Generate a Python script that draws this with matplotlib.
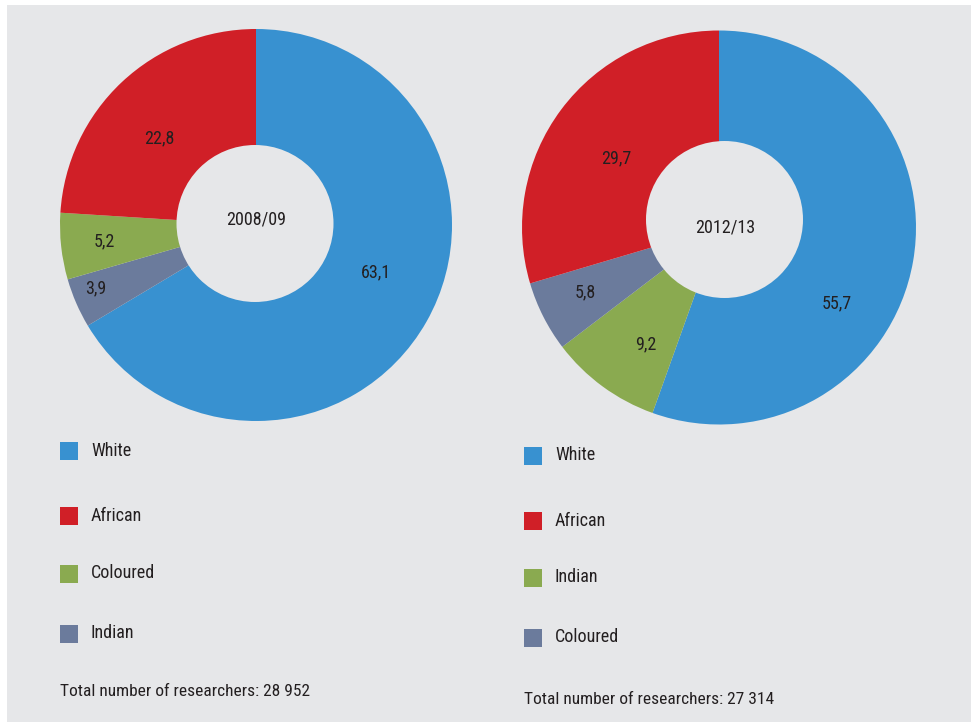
import numpy as np
import matplotlib
matplotlib.use("Agg")
import matplotlib.pyplot as plt
from matplotlib.patches import Rectangle, Circle
from matplotlib import font_manager

# ---------------- data ----------------
left_year = "2008/09"
left_labels = ["White", "Indian", "Coloured", "African"]          # clockwise from top
left_values = [63.1, 3.9, 5.2, 22.8]
left_legend = ["White", "African", "Coloured", "Indian"]
left_total = "Total number of researchers: 28 952"

right_year = "2012/13"
right_labels = ["White", "Indian", "Coloured", "African"]         # clockwise from top
right_values = [55.7, 9.2, 5.8, 29.7]
right_legend = ["White", "African", "Indian", "Coloured"]
right_total = "Total number of researchers: 27 314"

# ---------------- style ----------------
BG = "#e6e7e9"
BLUE, RED, GREEN, SLATE = "#3891d0", "#d01f27", "#8aaa50", "#6b7b9c"
TXT = "#231f20"
left_colors = [BLUE, SLATE, GREEN, RED]
right_colors = [BLUE, GREEN, SLATE, RED]
left_legend_colors = [BLUE, RED, GREEN, SLATE]
right_legend_colors = [BLUE, RED, GREEN, SLATE]

names = {f.name for f in font_manager.fontManager.ttflist}
FONT = "DejaVu Sans"
STRETCH = "condensed"
for cand in ["Roboto Condensed", "Liberation Sans Narrow", "Open Sans Condensed", "DejaVu Sans Condensed"]:
    if cand in names:
        FONT = cand
        break
plt.rcParams["font.family"] = [FONT, "DejaVu Sans"]
WEIGHT = "normal"

W, H = 971, 722
fig = plt.figure(figsize=(W / 100, H / 100), dpi=100, facecolor="white")
ax = fig.add_axes([0, 0, 1, 1])
ax.set_axis_off()


def Y(y):
    return H - y


ax.add_patch(Rectangle((7, 0), W - 7, H - 5, facecolor=BG, edgecolor="none", zorder=0))


def donut(values, colors, center, radius, hole_center, hole_r, year, year_pos,
          label_fracs, label_offsets):
    wedges, _ = ax.pie(values, colors=colors, startangle=90, counterclock=False,
                       center=(center[0], Y(center[1])), radius=radius,
                       wedgeprops=dict(linewidth=0, antialiased=True), frame=True)
    for w in wedges:
        w.set_zorder(2)
    ax.add_patch(Circle((hole_center[0], Y(hole_center[1])), hole_r,
                        facecolor=BG, edgecolor="none", zorder=3))
    ax.text(year_pos[0], Y(year_pos[1]), year, ha="center", va="center",
            fontsize=13, color=TXT, fontstretch=STRETCH, fontweight=WEIGHT, zorder=4)
    for w, v, fr, off in zip(wedges, values, label_fracs, label_offsets):
        mid = np.deg2rad((w.theta1 + w.theta2) / 2 + off)
        r = radius * fr
        x = center[0] + r * np.cos(mid)
        y = Y(center[1]) + r * np.sin(mid)
        ax.text(x, y, f"{v:.1f}".replace(".", ","), ha="center", va="center",
                fontsize=13, color=TXT, fontstretch=STRETCH, fontweight=WEIGHT, zorder=4)


donut(left_values, left_colors, (256, 225), 196, (255, 223.5), 78.5,
      left_year, (256, 220), [0.66, 0.88, 0.78, 0.66], [8, -2, 0, 5])
donut(right_values, right_colors, (719, 227.5), 197, (724.5, 219.5), 78.5,
      right_year, (725, 228), [0.71, 0.70, 0.755, 0.63], [-23, 4, -1, 3])


def legend(x0, ys, labels, colors, total, total_pos):
    for yc, lab, c in zip(ys, labels, colors):
        ax.add_patch(Rectangle((x0, Y(yc) - 9), 18, 18, facecolor=c, edgecolor="none", zorder=2))
        ax.text(x0 + 31, Y(yc), lab, ha="left", va="center", fontsize=13,
                color=TXT, fontstretch=STRETCH, fontweight=WEIGHT)
    ax.text(total_pos[0], Y(total_pos[1]), total, ha="left", va="center",
            fontsize=12.5, color=TXT, fontstretch=STRETCH, fontweight=WEIGHT)


legend(60, [451, 516, 573.5, 633.5], left_legend, left_legend_colors, left_total, (60, 692))
legend(524, [455.5, 520.5, 577.5, 637.5], right_legend, right_legend_colors, right_total, (524, 700))

ax.set_xlim(0, W)
ax.set_ylim(0, H)
ax.set_aspect("auto")
fig.savefig("out.png", dpi=100, facecolor="white")
